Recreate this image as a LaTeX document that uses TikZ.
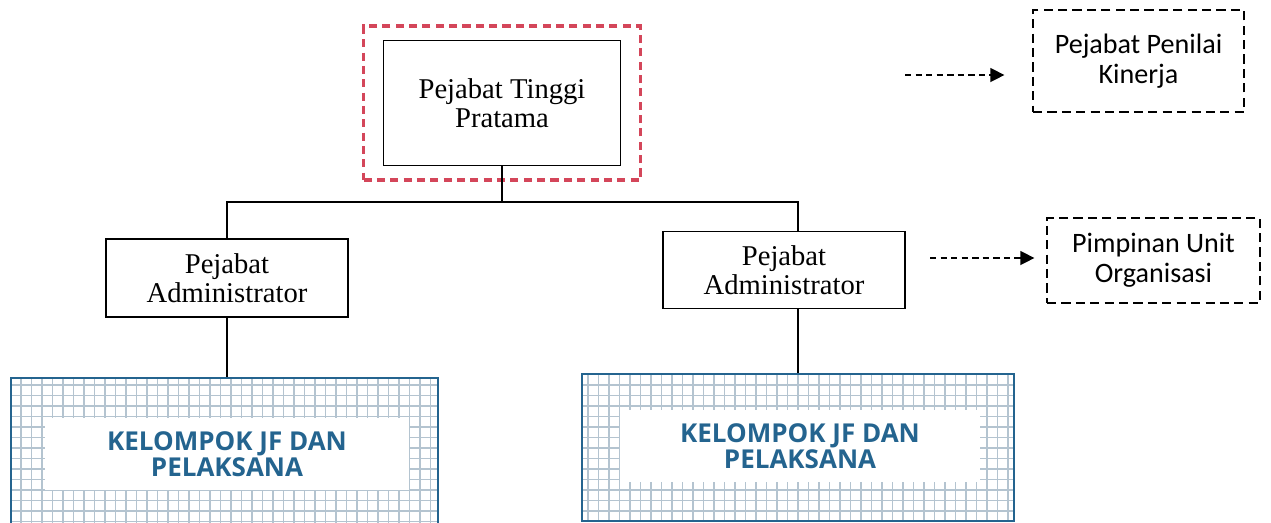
\documentclass[tikz,border=0pt]{standalone}
\usepackage{fontspec}
\setmainfont{Liberation Serif}
\newfontfamily\calfont{Carlito}
\newfontfamily\jffont{Open Sans}
\usetikzlibrary{positioning,arrows.meta}
\pgfdeclarelayer{bg}
\pgfsetlayers{bg,main}
\definecolor{jfblue}{HTML}{24648F}
\definecolor{gridblue}{HTML}{B4C4D0}
\definecolor{pjred}{HTML}{D4465A}
\tikzset{
  pejabat/.style={draw, line width=1pt, align=center, font=\fontsize{16.3}{16.8}\selectfont},
  penilai/.style={draw, dash pattern=on 5.2pt off 3pt, line width=0.75pt, align=center, font=\calfont\fontsize{16}{17}\selectfont},
  jfbox/.style={draw=jfblue, line width=1.1pt},
  jflabel/.style={fill=white, align=center, text=jfblue, font=\jffont\bfseries\fontsize{14.8}{13.8}\selectfont},
  link/.style={line width=1.1pt},
  dasharrow/.style={dash pattern=on 3.6pt off 2.4pt, line width=0.8pt, -{Triangle[length=8pt,width=8pt]}}
}

\begin{document}
\begin{tikzpicture}[x=0.02cm,y=-0.02cm]
	\useasboundingbox (0,0) rectangle (1271,522);
	% top
	\node[draw=pjred, line width=1.8pt, dash pattern=on 4.6pt off 3pt, minimum width=5.54cm, minimum height=3.08cm] (frame) at (502,103) {};
	\node[pejabat, minimum width=4.74cm, minimum height=2.5cm] (pt) at (502,103) {Pejabat Tinggi\\Pratama};
	% administrator
	\node[pejabat, minimum width=4.84cm, minimum height=1.56cm] (adm1) at (227,278) {Pejabat\\Administrator};
	\node[pejabat, minimum width=4.84cm, minimum height=1.54cm] (adm2) at (784,270) {Pejabat\\Administrator};
	% kelompok jf
	\node[jfbox, minimum width=8.54cm, minimum height=3.0cm] (jf1) at (224.5,453) {};
	\node[jfbox, minimum width=8.64cm, minimum height=2.94cm] (jf2) at (798,447.5) {};
	\begin{pgfonlayer}{bg}
		\foreach \b in {jf1,jf2} {
			\begin{scope}
				\clip (\b.south west) rectangle (\b.north east);
				\foreach \x in {0,10.5,...,1030}
					\draw[gridblue, line width=0.6pt] (\x,360) -- (\x,530);
				\foreach \y in {364,374.5,...,530}
					\draw[gridblue, line width=0.6pt] (0,\y) -- (1030,\y);
			\end{scope}
		}
	\end{pgfonlayer}
	\node[jflabel, minimum width=7.3cm, minimum height=1.44cm] (lbl1) at (227,454) {KELOMPOK JF DAN\\PELAKSANA};
	\node[jflabel, minimum width=7.2cm, minimum height=1.44cm] (lbl2) at (800,446) {KELOMPOK JF DAN\\PELAKSANA};
	% penilai
	\node[penilai, minimum width=4.22cm, minimum height=2.04cm] (ppk) at (1138.5,61) {Pejabat Penilai\\Kinerja};
	\node[penilai, minimum width=4.26cm, minimum height=1.7cm] (puo) at (1153.5,260.5) {Pimpinan Unit\\Organisasi};
	% lines
	\coordinate (split) at (502,202);
	\draw[link] (pt.south) -- (split);
	\draw[link] (split) -| (adm1.north);
	\draw[link] (split) -| (adm2.north -| jf2.north);
	\draw[link] (adm1.south) -- (jf1.north -| adm1.south);
	\draw[link] (adm2.south -| jf2.north) -- (jf2.north);
	\coordinate (a1) at (905,75);
	\coordinate (a2) at (930,258);
	\draw[dasharrow] (a1) -- ([xshift=-0.56cm]ppk.west |- a1);
	\draw[dasharrow] (a2) -- ([xshift=-0.24cm]puo.west |- a2);
\end{tikzpicture}
\end{document}
